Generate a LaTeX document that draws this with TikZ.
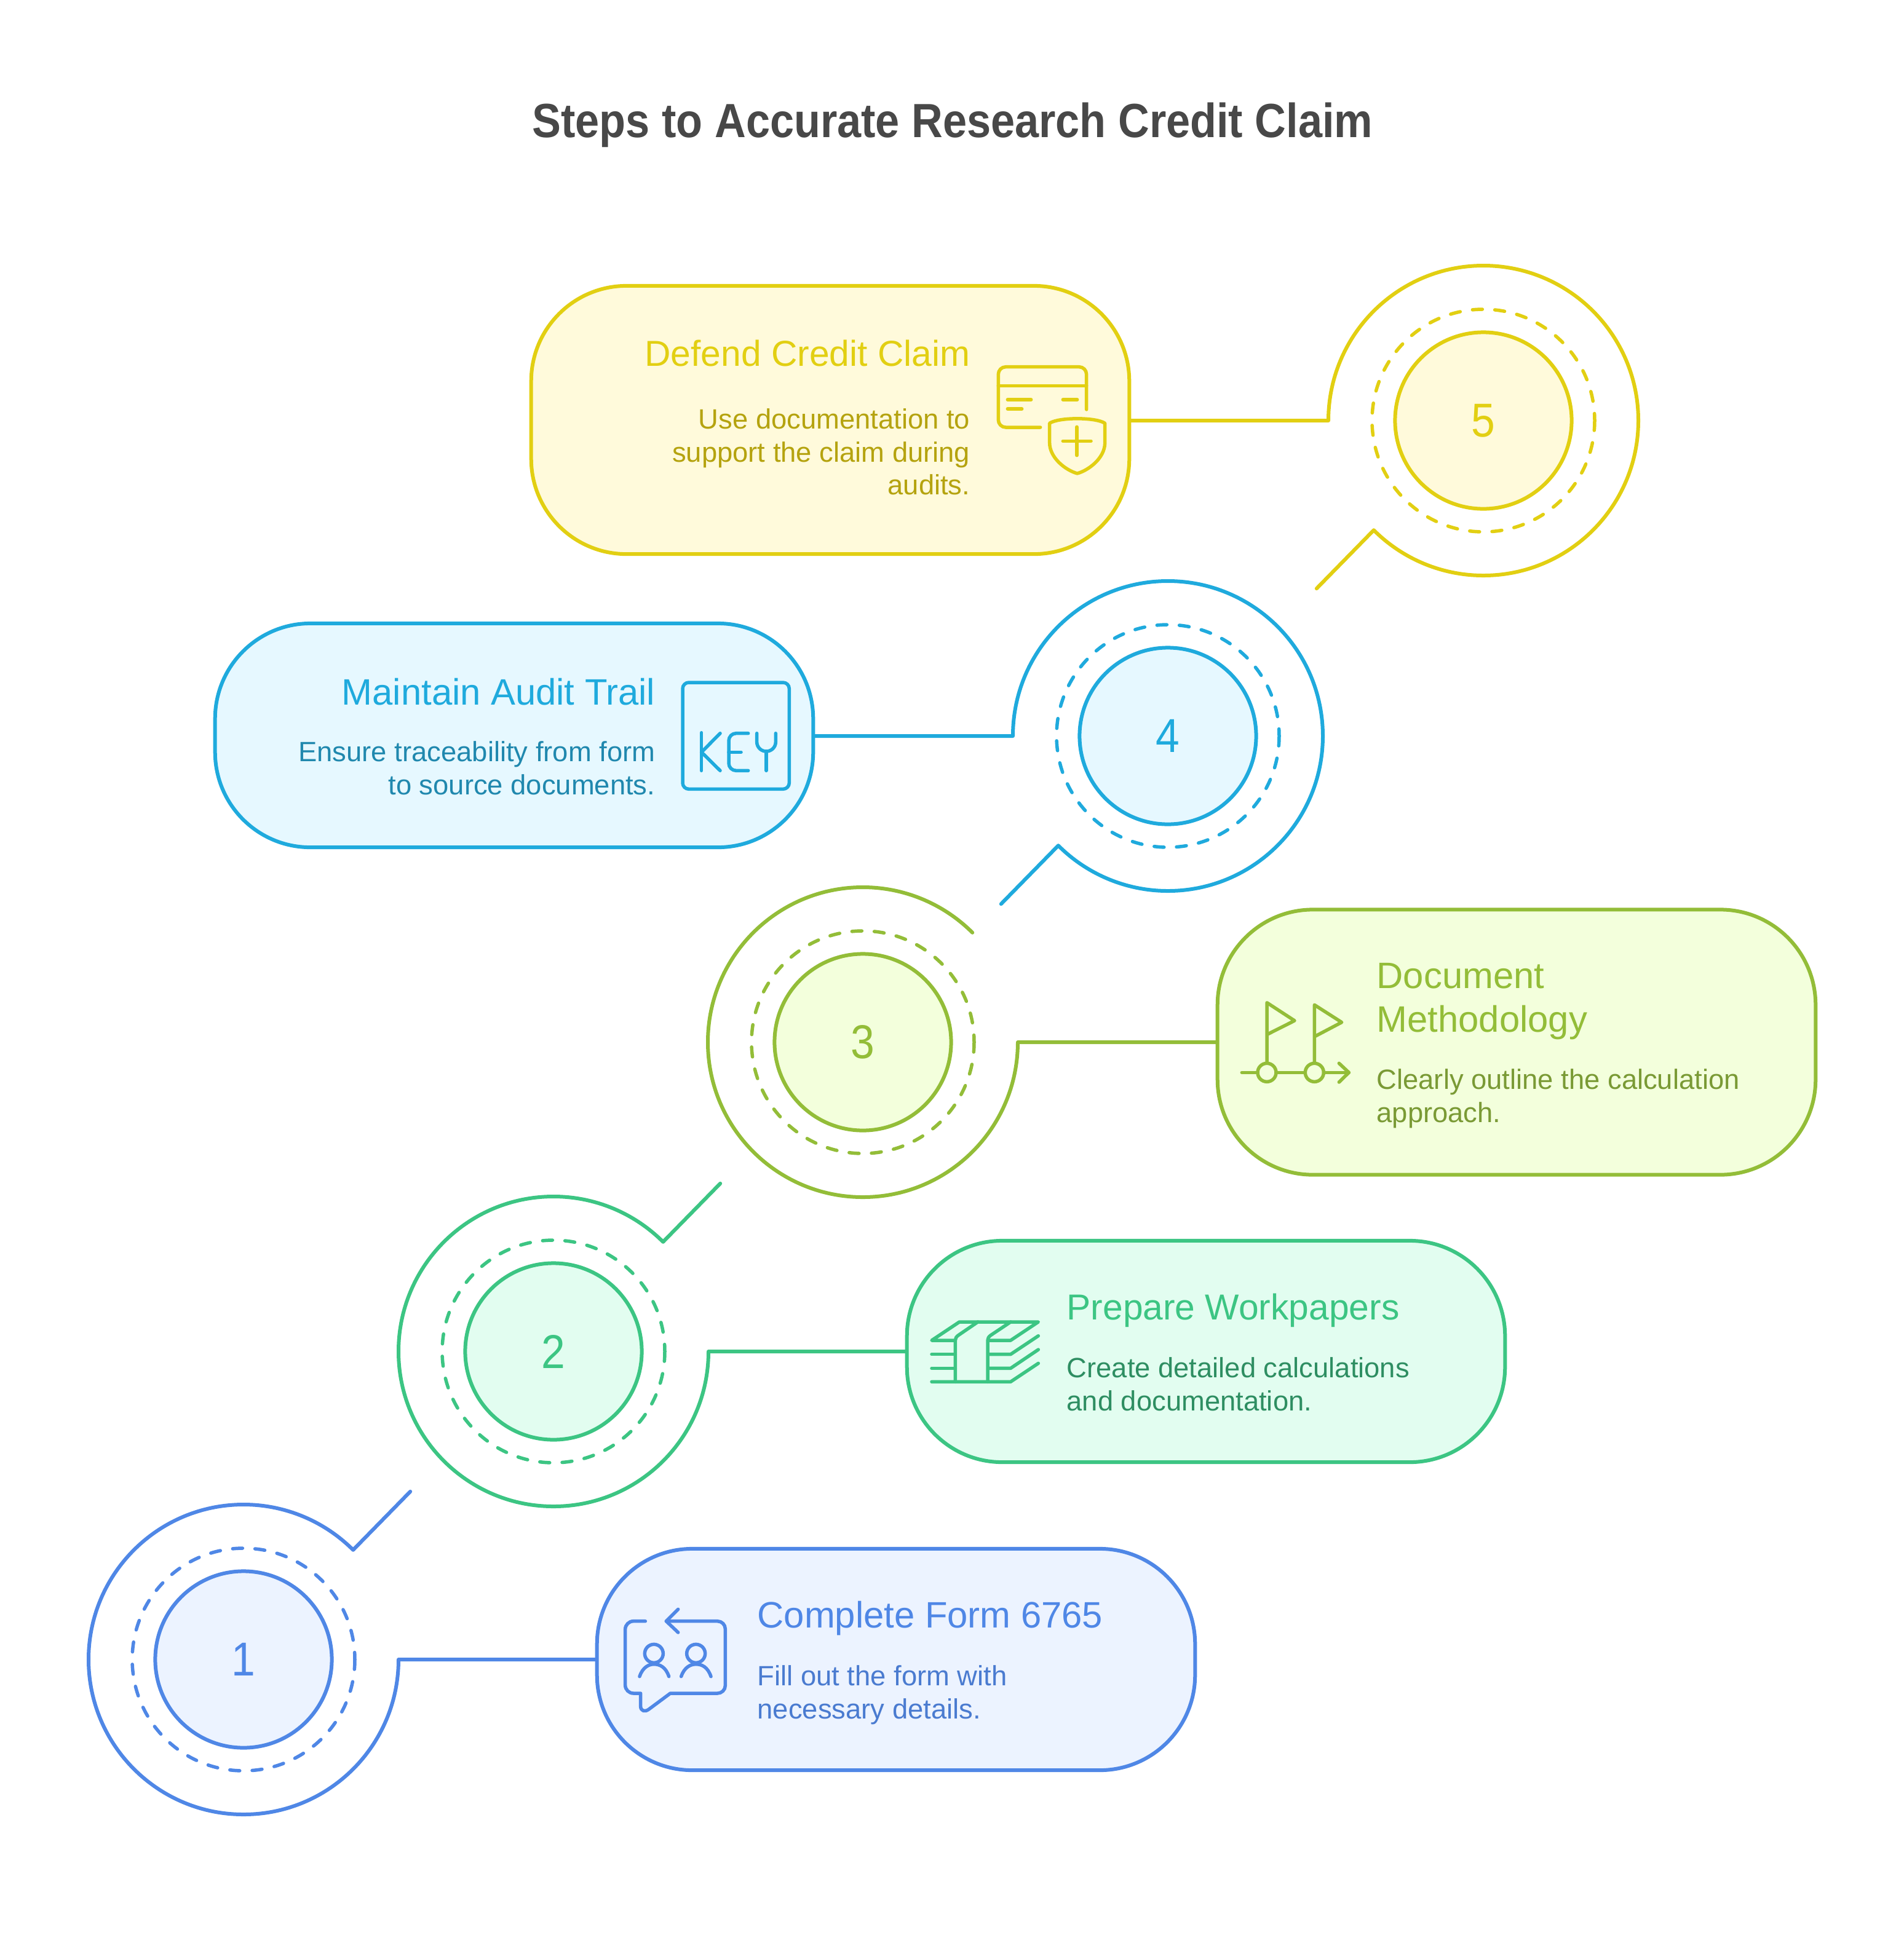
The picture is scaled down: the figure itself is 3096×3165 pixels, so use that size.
\documentclass[tikz,border=0pt]{standalone}
\usepackage{fontspec}
\setmainfont{Liberation Sans}
\newfontfamily\condfont[FakeStretch=0.9]{Liberation Sans}
\usepackage{xcolor}
\definecolor{AzulUno}{HTML}{4F87E6}
\definecolor{AzulFondo}{HTML}{ECF3FF}
\definecolor{AzulTexto}{HTML}{4A7BD0}
\definecolor{VerdeDos}{HTML}{3CC583}
\definecolor{VerdeFondo}{HTML}{E2FDF0}
\definecolor{VerdeTexto}{HTML}{2E8E62}
\definecolor{LimaTres}{HTML}{93BD38}
\definecolor{LimaFondo}{HTML}{F3FFDC}
\definecolor{LimaTexto}{HTML}{7A9A35}
\definecolor{CianCuatro}{HTML}{1FAADD}
\definecolor{CianFondo}{HTML}{E6F8FF}
\definecolor{CianTexto}{HTML}{2088AE}
\definecolor{OroCinco}{HTML}{E2CF12}
\definecolor{OroFondo}{HTML}{FFFADB}
\definecolor{OroTexto}{HTML}{B5A30F}
\definecolor{GrisTitulo}{HTML}{484848}
\begin{document}
\begin{tikzpicture}[x=0.01cm,y=-0.01cm,
  stepbox/.style={draw,line width=0.06cm,minimum width=9.72cm,rounded corners=1.55cm,inner sep=0pt},
  stepdisc/.style={circle,draw,line width=0.06cm,minimum size=2.87cm,inner sep=0pt,font=\condfont\fontsize{22}{26}\selectfont},
  stepline/.style={line width=0.06cm,line join=round,line cap=round},
  dashring/.style={line width=0.055cm,line cap=round,dash pattern=on 0.16cm off 0.203cm},
  headtext/.style={inner sep=0pt,font=\fontsize{17}{20}\selectfont},
  headtight/.style={inner sep=0pt,font=\fontsize{16.7}{20}\selectfont},
  bodytext/.style={inner sep=0pt,font=\fontsize{12.9}{15.2}\selectfont},
  iconline/.style={line width=0.055cm,line join=round,line cap=round}]
  \useasboundingbox (0,0) rectangle (3096,3165);
  \node[font=\condfont\bfseries\fontsize{22.2}{26}\selectfont,text=GrisTitulo,inner sep=0pt] (titletext) at (1549,203) {Steps to Accurate Research Credit Claim};

  \node[stepbox,draw=AzulUno,fill=AzulFondo,minimum height=3.6cm] (boxone) at (1457,2699) {};
  \node[stepbox,draw=VerdeDos,fill=VerdeFondo,minimum height=3.6cm] (boxtwo) at (1961,2198) {};
  \node[stepbox,draw=LimaTres,fill=LimaFondo,minimum height=4.31cm] (boxthree) at (2466,1695) {};
  \node[stepbox,draw=CianCuatro,fill=CianFondo,minimum height=3.64cm] (boxfour) at (836,1196) {};
  \node[stepbox,draw=OroCinco,fill=OroFondo,minimum height=4.36cm] (boxfive) at (1350,683) {};

  \coordinate (armone) at (648,2699);
  \coordinate (armtwo) at (1152,2198);
  \coordinate (armthree) at (1655,1695);
  \coordinate (armfour) at (1647,1197);
  \coordinate (armfive) at (2160,684);
  \draw[stepline,AzulUno] (boxone.west)--(armone) arc (0:315:252)--++(93,-95);
  \draw[stepline,VerdeDos] (boxtwo.west)--(armtwo) arc (0:315:252)--++(93,-95);
  \draw[stepline,LimaTres] (boxthree.west)--(armthree) arc (0:315:252);
  \draw[stepline,CianCuatro] (boxfour.east |- armfour)--(armfour) arc (180:495:252)--++(-93,95);
  \draw[stepline,OroCinco] (boxfive.east |- armfive)--(armfive) arc (180:495:252)--++(-93,95);

  \draw[dashring,AzulUno] (396,2699) circle (181);
  \draw[dashring,VerdeDos] (900,2198) circle (181);
  \draw[dashring,LimaTres] (1403,1695) circle (181);
  \draw[dashring,CianCuatro] (1899,1197) circle (181);
  \draw[dashring,OroCinco] (2412,684) circle (181);
  \node[stepdisc,draw=AzulUno,fill=AzulFondo,text=AzulUno] (discone) at (396,2699) {1};
  \node[stepdisc,draw=VerdeDos,fill=VerdeFondo,text=VerdeDos] (disctwo) at (900,2198) {2};
  \node[stepdisc,draw=LimaTres,fill=LimaFondo,text=LimaTres] (discthree) at (1403,1695) {3};
  \node[stepdisc,draw=CianCuatro,fill=CianFondo,text=CianCuatro] (discfour) at (1899,1197) {4};
  \node[stepdisc,draw=OroCinco,fill=OroFondo,text=OroCinco] (discfive) at (2412,684) {5};

  \node[headtext,anchor=base west,text=AzulUno] (headone) at (1231,2647) {Complete Form 6765};
  \node[bodytext,anchor=north west,align=left,text=AzulTexto] (bodyone) at (1231,2708) {Fill out the form with\\necessary details.};
  \node[headtight,anchor=base west,text=VerdeDos] (headtwo) at (1734,2146) {Prepare Workpapers};
  \node[bodytext,anchor=north west,align=left,text=VerdeTexto] (bodytwo) at (1734,2207) {Create detailed calculations\\and documentation.};
  \node[headtext,anchor=north west,align=left,text=LimaTres] (headthree) at (2238,1566) {Document\\Methodology};
  \node[bodytext,anchor=north west,align=left,text=LimaTexto] (bodythree) at (2238,1738) {Clearly outline the calculation\\approach.};
  \node[headtext,anchor=base east,text=CianCuatro] (headfour) at (1066,1146) {Maintain Audit Trail};
  \node[bodytext,anchor=north east,align=right,text=CianTexto] (bodyfour) at (1066,1205) {Ensure traceability from form\\to source documents.};
  \node[headtight,anchor=base east,text=OroCinco] (headfive) at (1578,595) {Defend Credit Claim};
  \node[bodytext,anchor=north east,align=right,text=OroTexto] (bodyfive) at (1578,664) {Use documentation to\\support the claim during\\audits.};

  \begin{scope}[shift={(960,2480)},scale=1/3,iconline,AzulUno]
    \draw (268,470)--(210,470) arc (270:180:40)--(170,782) arc (180:90:40)--(245,822)--(245,885) .. controls (245,908) and (265,915) .. (285,900)--(390,822)--(620,822) arc (90:0:38)--(658,508) arc (0:-90:38)--(370,470);
    \draw (428,412)--(370,470)--(428,525);
    \draw (310,628) circle (45);
    \draw (515,628) circle (45);
    \draw (240,740) .. controls (255,695) and (285,680) .. (310,680) .. controls (340,680) and (368,695) .. (383,740);
    \draw (443,740) .. controls (458,695) and (488,680) .. (515,680) .. controls (545,680) and (573,695) .. (588,740);
  \end{scope}

  \begin{scope}[shift={(1480,2100)},scale=1/3,iconline,VerdeDos]
    \draw (385,240)--(490,240)--(625,150)--(240,150)--(105,240)--(220,240);
    \draw (330,150)--(235,215) .. controls (225,222) and (220,230) .. (220,240)--(220,442);
    \draw (490,150)--(393,215) .. controls (383,222) and (378,230) .. (378,240)--(378,442);
    \draw (105,308)--(220,308);
    \draw (105,376)--(220,376);
    \draw (105,442)--(490,442)--(625,352);
    \draw (385,308)--(490,308)--(625,218);
    \draw (385,376)--(490,376)--(625,285);
  \end{scope}

  \begin{scope}[shift={(1980,1600)},scale=1/3,iconline,LimaTres]
    \draw (240,385)--(240,92)--(375,180)--(240,248);
    \draw (472,385)--(472,103)--(605,188)--(472,258);
    \draw (240,433) circle (45);
    \draw (472,433) circle (45);
    \draw (118,433)--(195,433);
    \draw (285,433)--(427,433);
    \draw (517,433)--(640,433);
    \draw (592,388)--(640,433)--(592,480);
  \end{scope}

  \begin{scope}[shift={(1090,1090)},scale=1/3,iconline,CianCuatro]
    \draw[rounded corners=0.1cm] (60,60) rectangle (580,580);
    \draw (152,305)--(152,490);
    \draw (243,308)--(152,400)--(243,490);
    \draw[rounded corners=0.12cm] (380,308)--(285,308)--(285,490)--(380,490);
    \draw (285,400)--(345,400);
    \draw (422,308)--(422,350) arc (180:0:46)--(514,308);
    \draw (468,396)--(468,490);
  \end{scope}

  \begin{scope}[shift={(1600,580)},scale=1/3,iconline,OroCinco]
    \draw[rounded corners=0.12cm] (275,345)--(70,345)--(70,50)--(500,50)--(500,258);
    \draw (70,142)--(500,142);
    \draw (115,210)--(230,210);
    \draw (115,255)--(185,255);
    \draw (385,210)--(455,210);
    \draw (320,325) .. controls (365,295) and (545,295) .. (590,325)--(590,420) .. controls (590,495) and (510,555) .. (455,570) .. controls (400,555) and (320,495) .. (320,420)--cycle;
    \draw (453,343)--(453,482);
    \draw (385,412)--(522,412);
  \end{scope}
\end{tikzpicture}
\end{document}
